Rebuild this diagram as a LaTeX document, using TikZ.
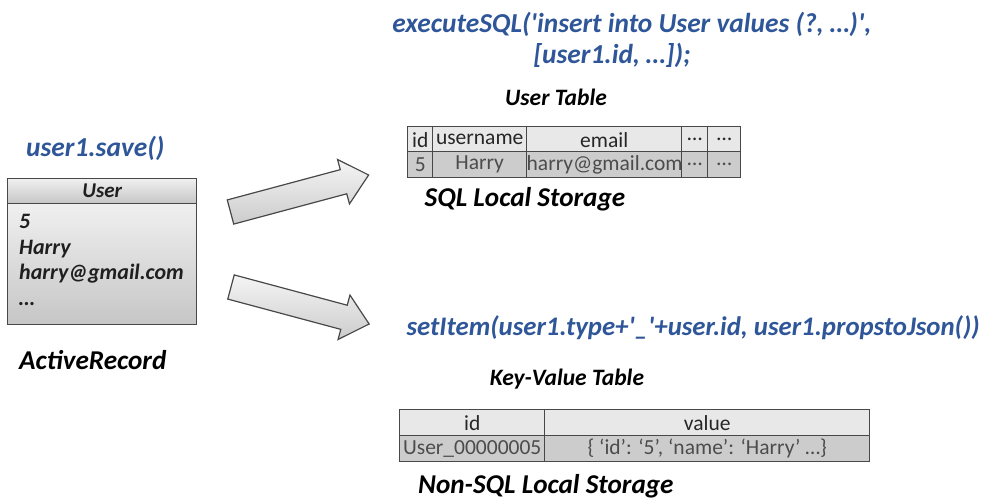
\documentclass[tikz,border=0pt]{standalone}
\usepackage{fontspec}
\setmainfont{Carlito}
\definecolor{codeblue}{RGB}{46,86,152}
\definecolor{edgegray}{RGB}{72,72,72}
\definecolor{headfill}{RGB}{232,232,232}
\definecolor{rowfill}{RGB}{204,204,204}
\newcommand{\sq}{\textquotesingle}

\begin{document}
\begin{tikzpicture}[x=1pt,y=-1pt,
  code/.style={font=\fontsize{27.4}{32}\selectfont\bfseries\itshape, text=codeblue, inner sep=0},
  caption/.style={font=\fontsize{27.2}{32}\selectfont\bfseries\itshape, inner sep=0},
  tablecap/.style={font=\fontsize{23.5}{28}\selectfont\bfseries\itshape, inner sep=0},
  cell/.style={draw=edgegray, line width=1.4pt, inner sep=0, font=\fontsize{21.5}{25}\selectfont},
  headcell/.style={cell, fill=headfill, text=black!85, minimum height=26},
  datacell/.style={cell, fill=rowfill, text=black!70, minimum height=26},
  recordbox/.style={draw=edgegray, line width=1.4pt, top color=gray!12, bottom color=gray!45, inner sep=0},
  recordtext/.style={font=\fontsize{22}{26}\selectfont\bfseries\itshape, text=black!88, inner sep=0, anchor=base west},
  blockarrow/.style={draw=edgegray, line width=1.2pt, line join=miter, top color=gray!8, bottom color=gray!40}
]
\useasboundingbox (0,0) rectangle (985,498);

% --- ActiveRecord object -------------------------------------------------
\node[code, anchor=base west] (save) at (26,156) {user1.save()};
\node[recordbox, minimum width=189, minimum height=25, anchor=north west, text=black!88,
      font=\fontsize{21}{25}\selectfont\bfseries\itshape] (userhead) at (7,178) {User};
\node[recordbox, minimum width=189, minimum height=121, anchor=north west] (userbody) at (7,203) {};
\node[recordtext] (f1) at (19,228) {5};
\node[recordtext] (f2) at (19,254) {Harry};
\node[recordtext] (f3) at (19,279) {harry@gmail.com};
\node[recordtext] (f4) at (19,305) {…};
\node[caption, anchor=base west] (ar) at (19,369) {ActiveRecord};

% --- block arrows ----------------------------------------------------------
\coordinate (upTail) at (230.5,212);
\coordinate (loTail) at (231,287);
\begin{scope}[shift={(upTail)}, rotate=15]
  \path[blockarrow] (0,-12.5) -- (117,-12.5) -- (117,-23) -- (143,0) -- (117,23) -- (117,12.5) -- (0,12.5) -- cycle;
\end{scope}
\begin{scope}[shift={(loTail)}, rotate=-15]
  \path[blockarrow] (0,-12.5) -- (117,-12.5) -- (117,-23) -- (143,0) -- (117,23) -- (117,12.5) -- (0,12.5) -- cycle;
\end{scope}

% --- SQL storage -----------------------------------------------------------
\node[code, anchor=base] (exec1) at (632,32) {executeSQL(\sq insert into User values (?, …)\sq,};
\node[code, anchor=base] (exec2) at (612,63) {[user1.id, …]);};
\node[tablecap, anchor=base] (utab) at (556,105) {User Table};

\node[headcell, minimum width=25, anchor=north west] (h1) at (407,126) {id};
\node[headcell, minimum width=94, anchor=north west] (h2) at (432,126) {username};
\node[headcell, minimum width=155, anchor=north west] (h3) at (526,126) {email};
\node[headcell, minimum width=26, anchor=north west] (h4) at (681,126) {…};
\node[headcell, minimum width=33, anchor=north west] (h5) at (707,126) {…};
\node[datacell, minimum width=25, anchor=north west] (d1) at (407,151) {5};
\node[datacell, minimum width=94, anchor=north west] (d2) at (432,151) {Harry};
\node[datacell, minimum width=155, anchor=north west] (d3) at (526,151) {harry@gmail.com};
\node[datacell, minimum width=26, anchor=north west] (d4) at (681,151) {…};
\node[datacell, minimum width=33, anchor=north west] (d5) at (707,151) {…};

\node[caption, anchor=base] (sqlstore) at (525,206) {SQL Local Storage};

% --- key-value storage -----------------------------------------------------
\node[code, anchor=base east, font=\fontsize{26.8}{32}\selectfont\bfseries\itshape] (setitem) at (980,335) {setItem(user1.type+\sq\_\sq+user.id, user1.propstoJson())};
\node[tablecap, anchor=base] (kvtab) at (567,385) {Key-Value Table};

\node[headcell, minimum width=145, anchor=north west] (k1) at (399,409) {id};
\node[headcell, minimum width=325, anchor=north west] (k2) at (544,409) {value};
\node[datacell, minimum width=145, anchor=north west] (v1) at (399,435) {User\_00000005};
\node[datacell, minimum width=325, anchor=north west] (v2) at (544,435) {\{ ‘id’: ‘5’, ‘name’: ‘Harry’ …\}};

\node[caption, anchor=base west] (nosql) at (418,493) {Non-SQL Local Storage};
\end{tikzpicture}
\end{document}
